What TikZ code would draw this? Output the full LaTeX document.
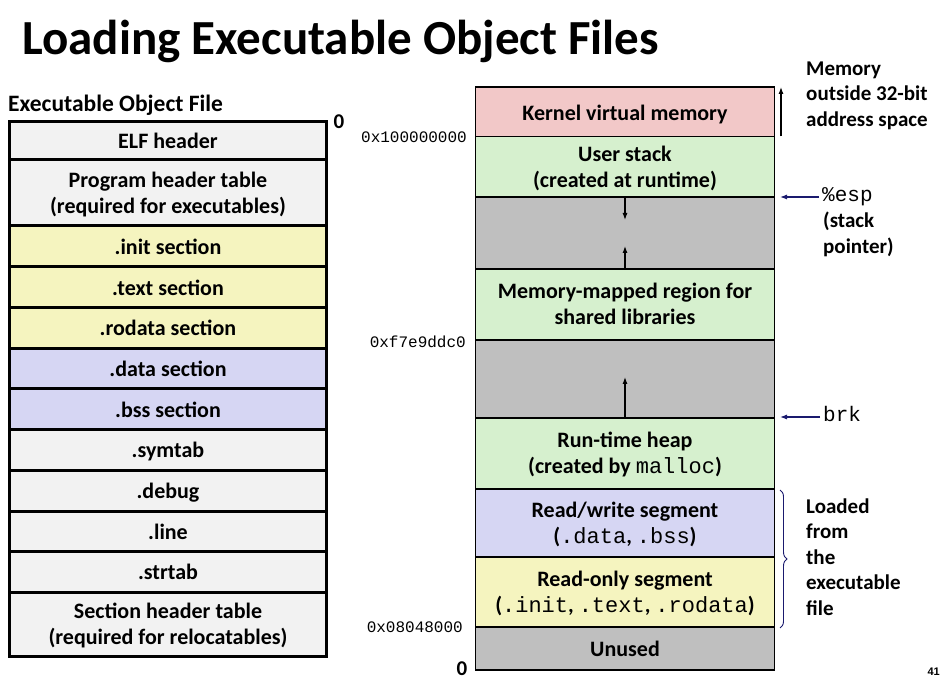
\documentclass[tikz,border=0pt]{standalone}
\usepackage{fontspec}
\setmainfont{Carlito}
\setmonofont{Liberation Mono}
\newfontfamily\arialfont{Liberation Sans}
\usetikzlibrary{arrows.meta,decorations.pathreplacing}
\definecolor{lgray}{HTML}{F2F2F2}
\definecolor{yel}{HTML}{F5F4BF}
\definecolor{lav}{HTML}{D6D6F3}
\definecolor{pinkk}{HTML}{F2C8C8}
\definecolor{grn}{HTML}{D6F0CE}
\definecolor{gry}{HTML}{BFBFBF}
\definecolor{navy}{HTML}{1A1A6E}
\newcommand\twoln[2]{\rule{0pt}{20pt}#1\\#2\rule[-5pt]{0pt}{5pt}}
\newcommand\mt[1]{{\ttfamily\mdseries #1}}
\tikzset{
  txt/.style={font=\fontsize{22}{26}\selectfont\bfseries},
  lbox/.style={txt, draw=black, line width=3pt, minimum width=317pt, inner sep=0pt, align=center},
  one/.style={text height=16pt, text depth=0pt},
  rbox/.style={txt, draw=black, line width=1.1pt, minimum width=299pt, inner sep=0pt, align=center},
  addr/.style={font=\fontsize{16}{18}\selectfont\ttfamily, anchor=east, inner sep=0pt},
  zero/.style={font=\fontsize{21}{25}\selectfont\bfseries, inner sep=0pt},
  note/.style={font=\fontsize{21}{25.5}\selectfont\bfseries, align=left, anchor=north west, inner sep=0pt},
  arr/.style={-{Latex[length=7pt,width=5pt]}, line width=1.1pt, black},
  narr/.style={-{Latex[length=7pt,width=5pt]}, line width=1.1pt, navy},
  mono/.style={font=\fontsize{21}{25}\selectfont\ttfamily, inner xsep=3pt, inner ysep=0pt, text height=10pt, text depth=0pt},
}
\begin{document}
\begin{tikzpicture}[x=1pt,y=-1pt]
\useasboundingbox (0,0) rectangle (940,684);
% title
\node[anchor=base west, inner sep=0pt, font=\fontsize{49}{55}\selectfont\bfseries] (title) at (22,55) {Loading Executable Object Files};
\node[anchor=base west, inner sep=0pt, font=\fontsize{23.5}{28}\selectfont\bfseries] (eof) at (8,112) {Executable Object File};
% left column
\node[lbox, one, fill=lgray, minimum height=38.5pt] (elf) at (168,140.75) {ELF header};
\node[lbox, fill=lgray, minimum height=66pt] (pht) at (168,193) {\twoln{Program header table}{(required for executables)}};
\node[lbox, one, fill=yel, minimum height=41pt] (init) at (168,246.5) {.init section};
\node[lbox, one, fill=yel, minimum height=40.5pt] (text) at (168,287.25) {.text section};
\node[lbox, one, fill=yel, minimum height=41pt] (rodata) at (168,328) {.rodata section};
\node[lbox, one, fill=lav, minimum height=40.5pt] (data) at (168,368.75) {.data section};
\node[lbox, one, fill=lav, minimum height=40.5pt] (bss) at (168,409.25) {.bss section};
\node[lbox, one, fill=lgray, minimum height=40.5pt] (symtab) at (168,449.75) {.symtab};
\node[lbox, one, fill=lgray, minimum height=41pt] (debug) at (168,490.5) {.debug};
\node[lbox, one, fill=lgray, minimum height=40.5pt] (line) at (168,531.25) {.line};
\node[lbox, one, fill=lgray, minimum height=40.5pt] (strtab) at (168,571.75) {.strtab};
\node[lbox, fill=lgray, minimum height=64.5pt] (sht) at (168,624.25) {\twoln{Section header table}{(required for relocatables)}};
\node[zero] (z1) at (339,122) {0};
% right column
\node[rbox, one, text height=18pt, fill=pinkk, minimum height=49.5pt] (kernel) at (625,111.75) {Kernel virtual memory};
\node[rbox, fill=grn, minimum height=60.5pt] (ustack) at (625,166.75) {\twoln{User stack}{(created at runtime)}};
\node[rbox, fill=gry, minimum height=72pt] (gap1) at (625,233) {};
\node[rbox, fill=grn, minimum height=71pt] (mmap) at (625,304.5) {\twoln{Memory-mapped region for}{shared libraries}};
\node[rbox, fill=gry, minimum height=78pt] (gap2) at (625,379) {};
\node[rbox, fill=grn, minimum height=71pt] (heap) at (625,453.5) {\twoln{Run-time heap}{(created by \mt{malloc})}};
\node[rbox, fill=lav, minimum height=68pt] (rw) at (625,523) {\twoln{Read/write segment}{(\mt{.data}, \mt{.bss})}};
\node[rbox, fill=yel, minimum height=70pt] (ro) at (625,592) {\twoln{Read-only segment}{(\mt{.init}, \mt{.text}, \mt{.rodata})}};
\node[rbox, one, fill=gry, minimum height=43pt] (unused) at (625,648.5) {Unused};
% addresses
\node[addr] (a1) at (467,137) {0x100000000};
\node[addr] (a2) at (466,342) {0xf7e9ddc0};
\node[addr] (a3) at (463,627.5) {0x08048000};
\node[zero] (z2) at (462,669) {0};
% arrows in gaps
\coordinate (d1) at (625,220);
\coordinate (u1) at (625,246);
\coordinate (u2) at (625,377);
\draw[arr] (gap1.north) -- (d1);
\draw[arr] (gap1.south) -- (u1);
\draw[arr] (gap2.south) -- (u2);
% kernel arrow
\coordinate (kb) at (781,136.5);
\coordinate (kt) at (781,87);
\draw[arr] (kb) -- (kt);
\node[note] (mem) at (806,61.5) {Memory\\outside 32-bit\\address space};
% esp
\node[mono, anchor=west] (esp) at (819,197) {\%esp};
\coordinate (espa) at (780,197);
\draw[narr] (esp.west) -- (espa);
\node[note] (sp) at (823,212) {(stack\\pointer)};
% brk
\node[mono, anchor=west] (brk) at (820,417) {brk};
\coordinate (brka) at (780,417);
\draw[narr] (brk.west) -- (brka);
% brace
\coordinate (bt) at (780,490);
\coordinate (bb) at (780,628);
\draw[navy, line width=0.9pt, decorate, decoration={brace, amplitude=7pt}] (bt) -- (bb);
\node[note] (loaded) at (806,498.5) {Loaded\\from\\the\\executable\\file};
% page number
\node[anchor=east, inner sep=0pt, font=\fontsize{11}{13}\selectfont\arialfont\bfseries] (pg) at (940,672) {41};
\end{tikzpicture}
\end{document}
